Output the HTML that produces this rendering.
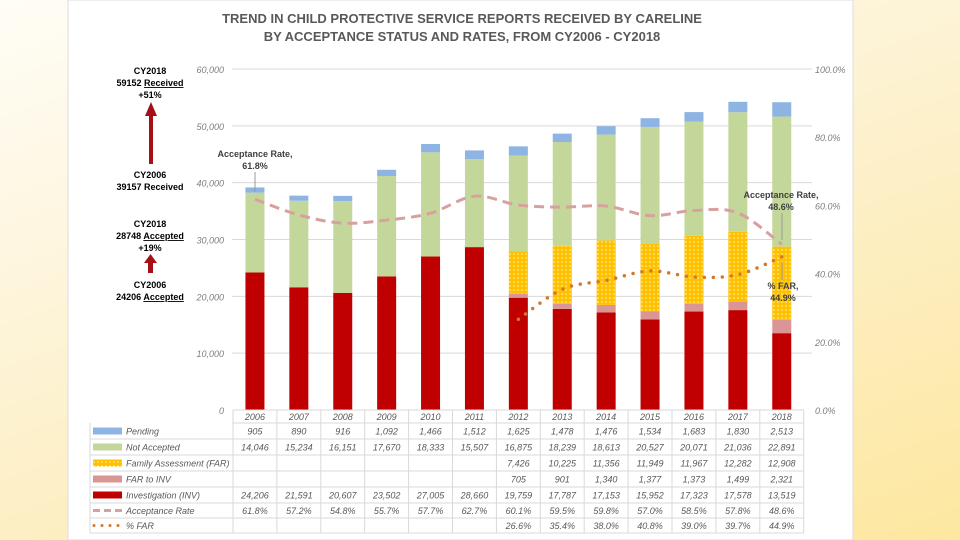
<!DOCTYPE html>
<html><head><meta charset="utf-8"><style>
html,body{margin:0;padding:0;width:960px;height:540px;overflow:hidden}
body{background:linear-gradient(160deg,#fffdf6 0%,#fdf3d6 40%,#fde7a0 100%);font-family:"Liberation Sans",sans-serif}
svg{position:absolute;left:0;top:0}
</style></head><body>
<svg width="960" height="540" id="svg">
<defs>
<pattern id="farpat" width="4" height="4" patternUnits="userSpaceOnUse">
<rect width="4" height="4" fill="#ffc000"/><circle cx="2" cy="2" r="0.8" fill="#fff6b0"/>
</pattern>
<marker id="ah" markerWidth="4" markerHeight="4" refX="2" refY="2" orient="auto"></marker>
</defs>
<rect x="68" y="0" width="785" height="540" fill="#fff" stroke="#ddd"/>
<text x="462" y="23" text-anchor="middle" font-size="13" font-weight="bold" fill="#595959">TREND IN CHILD PROTECTIVE SERVICE REPORTS RECEIVED BY CARELINE</text>
<text x="462" y="41" text-anchor="middle" font-size="13" font-weight="bold" fill="#595959">BY ACCEPTANCE STATUS AND RATES, FROM CY2006 - CY2018</text>
<g font-size="9" font-weight="bold" fill="#000" text-anchor="middle">
<text x="150" y="74">CY2018</text>
<text x="150" y="86">59152 <tspan text-decoration="underline">Received</tspan></text>
<text x="150" y="98">+51%</text>
<text x="150" y="178">CY2006</text>
<text x="150" y="190">39157 Received</text>
</g>
<rect x="149" y="114" width="4" height="50" fill="#a50f15"/>
<polygon points="145,116 157,116 151,102" fill="#a50f15"/>
<g font-size="9" font-weight="bold" fill="#000" text-anchor="middle">
<text x="150" y="227">CY2018</text>
<text x="150" y="239">28748 <tspan text-decoration="underline">Accepted</tspan></text>
<text x="150" y="251">+19%</text>
<text x="150" y="288">CY2006</text>
<text x="150" y="300">24206 <tspan text-decoration="underline">Accepted</tspan></text>
</g>
<rect x="148" y="262" width="5" height="11" fill="#a50f15"/>
<polygon points="144,263 157,263 150.5,254" fill="#a50f15"/>
<g id="grid"></g><g id="bars"></g><g id="lines"></g><g id="table"></g>
<g font-size="9" font-weight="bold" fill="#404040" text-anchor="middle">
<text x="255" y="157">Acceptance Rate,</text><text x="255" y="169">61.8%</text>
<line x1="255" y1="172" x2="255" y2="192" stroke="#999"/>
<text x="781" y="198">Acceptance Rate,</text><text x="781" y="210">48.6%</text>
<line x1="782" y1="213" x2="782" y2="240" stroke="#999"/>
<text x="783" y="289">% FAR,</text><text x="783" y="301">44.9%</text>
<line x1="782" y1="262" x2="782" y2="280" stroke="#999"/>
</g>
</svg>
<script>
const years=["2006","2007","2008","2009","2010","2011","2012","2013","2014","2015","2016","2017","2018"];
const pending=[905,890,916,1092,1466,1512,1625,1478,1476,1534,1683,1830,2513];
const notAccepted=[14046,15234,16151,17670,18333,15507,16875,18239,18613,20527,20071,21036,22891];
const far=[null,null,null,null,null,null,7426,10225,11356,11949,11967,12282,12908];
const farToInv=[null,null,null,null,null,null,705,901,1340,1377,1373,1499,2321];
const inv=[24206,21591,20607,23502,27005,28660,19759,17787,17153,15952,17323,17578,13519];
const accRate=[61.8,57.2,54.8,55.7,57.7,62.7,60.1,59.5,59.8,57.0,58.5,57.8,48.6];
const farRate=[null,null,null,null,null,null,26.6,35.4,38.0,40.8,39.0,39.7,44.9];
const leftTicks=[0,10000,20000,30000,40000,50000,60000];
const rightTicks=[0,20,40,60,80,100];
const NS="http://www.w3.org/2000/svg";
const y0=410,yTop=69,x0=233,colW=43.9,barW=19;
const yL=v=>y0-(v/60000)*(y0-yTop);
const yR=v=>y0-(v/100)*(y0-yTop);
const xC=i=>x0+colW*(i+0.5);
function mk(tag,attrs,parent,txt){const e=document.createElementNS(NS,tag);for(const k in attrs)e.setAttribute(k,attrs[k]);if(txt!=null)e.textContent=txt;parent.appendChild(e);return e;}
const grid=document.getElementById('grid');
leftTicks.forEach(t=>{
 if(t>0){const l=mk('line',{x1:232,x2:812,y1:yL(t),y2:yL(t),stroke:'#d9d9d9'},grid);
 
 }
 const tx=mk('text',{x:224,y:yL(t)+4,'text-anchor':'end','font-size':9,'font-style':'italic',fill:'#7f7f7f'},grid,t===0?'0':t.toLocaleString('en-US'));
 
 
});
rightTicks.forEach(t=>{
 const tx=mk('text',{x:815,y:yR(t)+4,'font-size':9,'font-style':'italic',fill:'#7f7f7f'},grid,t.toFixed(1)+'%');
 
 
});
const bars=document.getElementById('bars');
const series=[[inv,'#c00000','bar-investigation'],[farToInv,'#da9694','bar-far-to-inv'],[far,'url(#farpat)','bar-family-assessment'],[notAccepted,'#c4d79b','bar-not-accepted'],[pending,'#8db4e2','bar-pending']];
years.forEach((y,i)=>{
 let acc=0;
 series.forEach(([arr,col,name])=>{
  const v=arr[i];if(!v)return;
  const r=mk('rect',{x:xC(i)-barW/2,y:yL(acc+v),width:barW,height:yL(acc)-yL(acc+v),fill:col},bars);
  
  
  acc+=v;
 });
});
function smooth(pts){let d='M'+pts[0][0]+','+pts[0][1];
 for(let i=0;i<pts.length-1;i++){const p0=pts[i-1]||pts[i],p1=pts[i],p2=pts[i+1],p3=pts[i+2]||p2;
 d+=` C${p1[0]+(p2[0]-p0[0])/6},${p1[1]+(p2[1]-p0[1])/6} ${p2[0]-(p3[0]-p1[0])/6},${p2[1]-(p3[1]-p1[1])/6} ${p2[0]},${p2[1]}`;}return d;}
const lines=document.getElementById('lines');
const accPts=accRate.map((v,i)=>[xC(i),yR(v)]);
const la=mk('path',{d:smooth(accPts),fill:'none',stroke:'#d9a0a0','stroke-width':3,'stroke-dasharray':'10,6'},lines);


const farPts=[];farRate.forEach((v,i)=>{if(v!=null)farPts.push([xC(i),yR(v)]);});
const lf=mk('path',{d:smooth(farPts),fill:'none',stroke:'#d4782a','stroke-width':3.5,'stroke-dasharray':'0,9','stroke-linecap':'round'},lines);


// table
const tb=document.getElementById('table');
const rowY=[410,423,439,455,471,487,503,518,533];
const labels=[['Pending','#8db4e2',pending,'n'],['Not Accepted','#c4d79b',notAccepted,'n'],['Family Assessment (FAR)','url(#farpat)',far,'n'],['FAR to INV','#da9694',farToInv,'n'],['Investigation (INV)','#c00000',inv,'n'],['Acceptance Rate','dash',accRate,'p'],['% FAR','dot',farRate,'p']];
const tl=233+colW*13;
mk('line',{x1:x0,x2:tl,y1:rowY[0],y2:rowY[0],stroke:'#d9d9d9'},tb);
for(let r=1;r<rowY.length;r++){mk('line',{x1:r===1?x0:90,x2:tl,y1:rowY[r],y2:rowY[r],stroke:'#d9d9d9'},tb);}
mk('line',{x1:90,x2:90,y1:rowY[1],y2:rowY[8],stroke:'#d9d9d9'},tb);
for(let c=0;c<=13;c++){mk('line',{x1:x0+colW*c,x2:x0+colW*c,y1:rowY[0],y2:rowY[8],stroke:'#d9d9d9'},tb);}
years.forEach((y,i)=>{const t=mk('text',{x:xC(i),y:rowY[0]+10,'text-anchor':'middle','font-size':9,'font-style':'italic',fill:'#595959'},tb,y);
 
 });
labels.forEach(([name,col,arr,fmt],r)=>{
 const cy=(rowY[r+1]+rowY[r+2])/2;
 if(col==='dash'){mk('line',{x1:93,x2:122,y1:cy,y2:cy,stroke:'#d9a0a0','stroke-width':3,'stroke-dasharray':'7,4'},tb);}
 else if(col==='dot'){mk('line',{x1:94,x2:122,y1:cy,y2:cy,stroke:'#d4782a','stroke-width':3,'stroke-dasharray':'0,8','stroke-linecap':'round'},tb);}
 else mk('rect',{x:93,y:cy-3.5,width:29,height:7,fill:col},tb);
 const lt=mk('text',{x:126,y:cy+3.5,'font-size':9,'font-style':'italic',fill:'#595959'},tb,name);
 
 
 arr.forEach((v,i)=>{if(v==null)return;
  const s=fmt==='p'?v.toFixed(1)+'%':v.toLocaleString('en-US');
  const t=mk('text',{x:xC(i),y:cy+3.5,'text-anchor':'middle','font-size':9,'font-style':'italic',fill:'#595959'},tb,s);
  
  });
});
</script>
</body></html>
